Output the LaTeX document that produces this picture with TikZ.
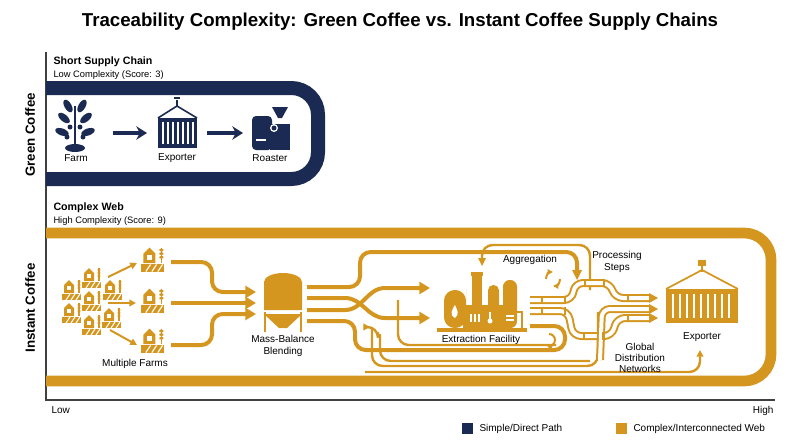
\documentclass[tikz,border=0pt]{standalone}
\usepackage{fontspec}
\setmainfont{Liberation Sans}
\usetikzlibrary{arrows.meta}
\definecolor{navy}{RGB}{27,42,82}
\definecolor{gold}{RGB}{212,150,30}
\tikzset{every picture/.style={line width=0.75pt}}
\tikzset{
  lbl/.style={font=\fontsize{7.5}{8.5}\selectfont, align=center, inner sep=0.75pt},
  flow/.style={gold, line width=3pt, rounded corners=8pt},
  thin flow/.style={gold, line width=1.8pt, rounded corners=8pt},
  flowtip/.style={-{Triangle[length=8pt,width=9pt]}},
  pipe/.style={gold, line width=6pt, rounded corners=6pt},
  pipe core/.style={white, line width=3pt, rounded corners=6pt},
  farmlet/.pic={
    \fill (-8,-1) -- (-8,7) -- (-3,12) -- (2,7) -- (2,-1) -- cycle;
    \fill[white] (-5,6) rectangle (-1,2);
    \fill (-10,-2) -- (9,-2) -- (9,-8) -- (-10,-8) -- cycle;
    \foreach \k in {-6,-1,4} \draw[white,line width=0.8pt] (\k,-8) -- (\k+4,-2);
    \draw[line width=1pt] (7,-1) -- (7,12);
    \foreach \k in {4,7,10} \fill (7,\k) ellipse (1.8 and 1.2);
  }
}
\begin{document}
\begin{tikzpicture}[x=0.75pt,y=0.75pt,yscale=-1,xscale=1]
\useasboundingbox (0,0) rectangle (800,447);

% Title
\node (title) at (400,22) {\fontsize{14}{16}\selectfont\bfseries Traceability Complexity: Green Coffee vs. Instant Coffee Supply Chains};

% Axes
\draw[black!75, line width=1pt] (46,52) -- (46,400) -- (775,400);
\node[lbl, anchor=north west] (low) at (50,405) {Low};
\node[lbl, anchor=north east] (high) at (775,405) {High};
\node[rotate=90, font=\fontsize{10}{12}\selectfont\bfseries] (green) at (30,135) {Green Coffee};
\node[rotate=90, font=\fontsize{10}{12}\selectfont\bfseries] (instant) at (30,308) {Instant Coffee};

% Short chain
\node[anchor=west, inner sep=0.75pt, font=\fontsize{8}{9}\selectfont\bfseries] (short) at (52,62) {Short Supply Chain};
\node[anchor=west, inner sep=0.75pt, font=\fontsize{7}{8}\selectfont] (lowc) at (52,75) {Low Complexity (Score: 3)};
\draw[navy, line width=10.5pt, rounded corners=20pt] (46,88) -- (318,88) -- (318,179) -- (46,179);

% farm icon
\fill[navy] (75,148) ellipse (10 and 4);
\draw[navy, line width=2pt] (75,147) -- (75,106);
\foreach \a/\x/\y in {40/64/118,-40/86/118,60/68/106,-60/82/106,20/62/132,-20/88/132}
  \fill[navy, rotate around={\a:(\x,\y)}] (\x,\y) ellipse (7 and 3.5);
\foreach \x/\y in {70/127,80/127,67/137,83/137}
  \fill[navy] (\x,\y) circle (2.5);
\node[lbl] (farm) at (76,158) {Farm};
% exporter icon
\fill[navy] (158,118) rectangle (197,148);
\foreach \x in {163,168,...,193} \draw[white, line width=1.2pt] (\x,122) -- (\x,144);
\draw[navy, line width=1.2pt] (158,118) -- (177,106) -- (197,118);
\draw[navy, line width=1.5pt] (177,106) -- (177,100) (174,98) -- (180,98);
\node[lbl] (exp) at (177,158) {Exporter};
% roaster icon
\fill[navy, rounded corners=3pt] (252,116) rectangle (272,150);
\fill[navy] (270,124) rectangle (290,150);
\fill[navy] (272,107) -- (288,107) -- (282,118) -- (278,118) -- cycle;
\fill[white] (274,128) circle (4);
\fill[navy] (274,128) circle (2.5);
\draw[white, line width=1pt] (256,140) -- (266,140);
\node[lbl] (roast) at (270,158) {Roaster};
\draw[navy, line width=3.5pt, -{Stealth[length=8pt,width=10pt]}] (113,133) -- (147,133);
\draw[navy, line width=3.5pt, -{Stealth[length=8pt,width=10pt]}] (207,133) -- (243,133);

% Complex web
\node[anchor=west, inner sep=0.75pt, font=\fontsize{8}{9}\selectfont\bfseries] (web) at (52,208) {Complex Web};
\node[anchor=west, inner sep=0.75pt, font=\fontsize{7}{8}\selectfont] (highc) at (52,221) {High Complexity (Score: 9)};
\draw[gold, line width=8pt, rounded corners=20pt] (46,233) -- (771,233) -- (771,381) -- (46,381);

% farms
\begin{scope}[gold]
\foreach \x/\y in {72/292,92/280,113/292,92/303,72/315,92/327,112/320}
  \pic at (\x,\y) {farmlet};
\foreach \y in {262,303,343}
  \pic[scale=1.2] at (153,\y) {farmlet};
\end{scope}
\draw[gold, line width=1.5pt, -{Triangle[length=5pt,width=5pt]}] (108,277) -- (137,263);
\draw[gold, line width=1.5pt, -{Triangle[length=5pt,width=5pt]}] (108,303) -- (136,303);
\draw[gold, line width=1.5pt, -{Triangle[length=5pt,width=5pt]}] (110,330) -- (137,345);
\node[lbl] (farms) at (135,364) {Multiple Farms};

\draw[flow, flowtip] (171,262) -- (212,262) -- (212,292) -- (256,292);
\draw[flow, flowtip] (171,303) -- (256,303);
\draw[flow, flowtip] (171,345) -- (212,345) -- (212,314) -- (256,314);

% silo
\fill[gold] (264,282) arc (180:360:19 and 9) -- (302,310) -- (264,310) -- cycle;
\fill[gold] (264,314) -- (302,314) -- (287,328) -- (279,328) -- cycle;
\draw[gold, line width=2pt] (265,312) -- (265,332) (301,312) -- (301,332);
\node[lbl] (blend) at (283,346) {Mass-Balance\\Blending};

% flows out of blender
\draw[flow] (307,287) -- (360,287) -- (360,252) -- (577,252) -- (577,275);
\fill[gold] (572,270) -- (582,270) -- (577,280) -- cycle;
\draw[thin flow] (482,262) -- (482,245) -- (590,245) -- (590,290);
\fill[gold] (478,258) -- (486,258) -- (482,266) -- cycle;
\draw[flow, flowtip, rounded corners=0pt] (307,298) -- (345,298) to[out=0,in=180] (385,318) -- (430,318);
\draw[flow, flowtip, rounded corners=0pt] (307,310) -- (345,310) to[out=0,in=180] (385,288) -- (430,288);
\draw[flow] (307,321) -- (355,321) -- (355,350) -- (565,350) -- (565,326) -- (530,326);
\draw[thin flow] (398,300) -- (398,345) -- (556,345);
\draw[thin flow] (372,328) -- (372,366) -- (598,366) -- (598,312);
\draw[thin flow] (380,334) -- (380,361) -- (590,361);
\draw[thin flow, -{Triangle[length=5pt,width=5pt]}] (365,372) -- (700,372) -- (700,350);
\draw[thin flow, -{Triangle[length=5pt,width=5pt]}] (378,332) -- (378,327) -- (370,327);

% extraction facility
\fill[gold] (437,328) rectangle (527,332);
\fill[gold, rounded corners=8pt] (444,328) -- (444,290) -- (466,290) -- (466,300) -- (466,328) -- cycle;
\fill[gold] (472,328) rectangle (482,272);
\fill[gold] (471,272) rectangle (483,276);
\fill[gold] (463,305) rectangle (512,328);
\fill[gold, rounded corners=4pt] (488,310) -- (488,285) -- (499,285) -- (499,310) -- cycle;
\fill[gold, rounded corners=5pt] (503,328) -- (503,280) -- (517,280) -- (517,328) -- cycle;
\draw[gold, line width=1.5pt] (517,312) -- (522,312) -- (522,328);
\fill[white] (455,318) .. controls (449,316) and (452,309) .. (455,305) .. controls (457,310) and (460,314) .. (455,318);
\foreach \x in {471,475,479} \draw[white, line width=0.8pt] (\x,322) -- (\x,314);
\fill[white] (490,321) circle (2.5);
\draw[white, line width=1.3pt] (490,320) -- (490,312);
\draw[white, line width=1pt] (506,316) -- (514,316) (506,320) -- (514,320);
\node[lbl] (extract) at (481,340) {Extraction Facility};

% cycles
\draw[gold, line width=1.5pt, -{Triangle[length=4pt,width=4pt]}] (546,279) arc (180:270:7);
\draw[gold, line width=1.5pt, -{Triangle[length=4pt,width=4pt]}] (560,279) arc (0:90:7);
\draw[gold, line width=1.5pt, -{Triangle[length=4pt,width=4pt]}] (549,334) arc (-90:110:6);
\node[lbl] (aggr) at (530,260) {Aggregation};
\node[lbl] (proc) at (617,262) {Processing\\Steps};

% pipes
\foreach \pp in {
  {(530,300) -- (572,300) -- (575,283) -- (610,283) -- (615,298) -- (650,298)},
  {(530,311) -- (568,311) -- (573,336) -- (612,336) -- (617,318) -- (650,318)},
  {(600,360) -- (602,309) -- (650,309)}}
  {\draw[pipe] \pp; \draw[pipe core] \pp;}
\foreach \y in {298,309,318}
  \fill[gold] (649,\y-5) -- (658,\y) -- (649,\y+5) -- cycle;
\foreach \x/\y in {542/300,565/300,585/283,604/283,628/298,542/311,565/311,584/336,603/336,628/318}
  \fill[gold] (\x-1.2,\y-4) rectangle (\x+1.2,\y+4);
\node[lbl] (glob) at (640,358) {Global\\Distribution\\Networks};

% exporter
\fill[gold] (666,289) rectangle (738,323);
\foreach \x in {673,680,...,731} \draw[white, line width=1.3pt] (\x,294) -- (\x,318);
\draw[gold, line width=1.3pt] (666,289) -- (702,270) -- (738,289);
\fill[gold] (698,260) rectangle (706,266);
\draw[gold, line width=1.3pt] (702,266) -- (702,272);
\node[lbl] (exp2) at (702,337) {Exporter};

% legend
\fill[navy] (462,423) rectangle (473,434);
\node[lbl, anchor=west] (lsimp) at (478,428.5) {Simple/Direct Path};
\fill[gold] (616,423) rectangle (627,434);
\node[lbl, anchor=west] (lcomp) at (632,428.5) {Complex/Interconnected Web};
\end{tikzpicture}
\end{document}
